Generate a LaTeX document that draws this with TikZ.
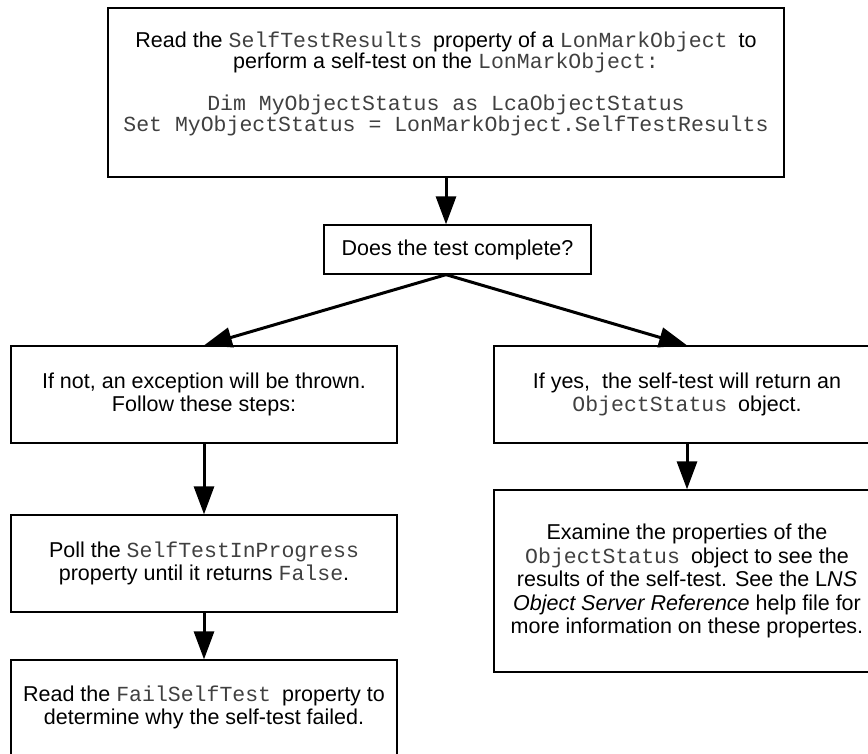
\documentclass[tikz,border=0pt]{standalone}
\usepackage{fontspec}
\setmainfont{Liberation Sans}
\setmonofont{Liberation Mono}
\usetikzlibrary{arrows.meta,calc}
\definecolor{codegray}{gray}{0.25}
\newcommand{\cd}[1]{{\ttfamily\color{codegray}#1}}
\begin{document}
\begin{tikzpicture}[x=1pt,y=-1pt,
  box/.style={draw,line width=1.3pt,inner sep=0pt,align=center,
    font=\fontsize{21.5}{23.5}\selectfont},
  arr/.style={line width=3pt,-{Triangle[length=28pt,width=20pt]}}]
\useasboundingbox (0,0) rectangle (868,753);
\clip (0,0) rectangle (868,753);
\node[box,minimum width=676pt,minimum height=169pt,font=\fontsize{21.5}{21}\selectfont] (top) at (446,92.5)
  {Read the \cd{SelfTestResults}\hspace{5pt} property of a \cd{LonMarkObject}\hspace{5pt} to\\
   perform a self-test on the \cd{LonMarkObject:}\\[21pt]
   \cd{Dim MyObjectStatus as LcaObjectStatus}\\
   \cd{Set MyObjectStatus = LonMarkObject.SelfTestResults}\rule[-22pt]{0pt}{0pt}};
\node[box,minimum width=267pt,minimum height=49pt] (dec) at (457.5,249.5)
  {Does the test complete?};
\node[box,minimum width=386pt,minimum height=97pt] (notb) at (204,394.5)
  {If not, an exception will be thrown.\\ Follow these steps:};
\node[box,minimum width=386pt,minimum height=97pt] (yesb) at (687,394.5)
  {If yes,\ \ the self-test will return an\\ \cd{ObjectStatus}\hspace{5pt} object.};
\node[box,minimum width=386pt,minimum height=97pt] (poll) at (204,563.5)
  {Poll the \cd{SelfTestInProgress}\\ property until it returns \cd{False}.};
\node[box,minimum width=386pt,minimum height=95pt] (fail) at (204,707.5)
  {Read the \cd{FailSelfTest}\hspace{5pt} property to\\ determine why the self-test failed.};
\node[box,minimum width=386pt,minimum height=182pt] (exam) at (687,581)
  {Examine the properties of the\\
   \cd{ObjectStatus}\hspace{5pt} object to see the\\
   results of the self-test. See the L\textit{NS}\\
   \textit{Object Server Reference} help file for\\
   more information on these propertes.};
\coordinate (split) at (top.south |- dec.south);
\draw[arr] (top.south) -- (top.south |- dec.north);
\draw[arr] (split) -- (notb.north);
\draw[arr] (split) -- (yesb.north);
\draw[arr] (notb.south) -- (poll.north);
\draw[arr] (poll.south) -- (fail.north);
\draw[arr] (yesb.south) -- (exam.north);
\end{tikzpicture}
\end{document}
